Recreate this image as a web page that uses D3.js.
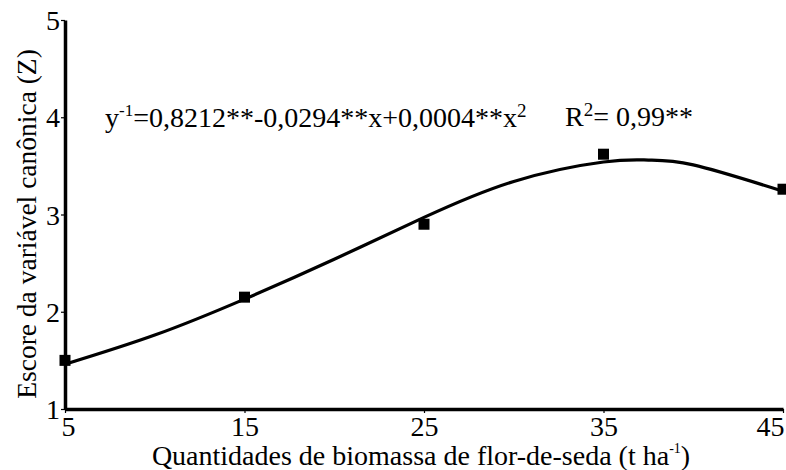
<!DOCTYPE html>
<html><head><meta charset="utf-8">
<script src="https://cdn.jsdelivr.net/npm/d3@7/dist/d3.min.js"></script>
<style>body{margin:0;background:#fff}svg{display:block}</style>
</head><body>
<script>
const xTicks = [5, 15, 25, 35, 45];
const yTicks = [1, 2, 3, 4, 5];
const obsX = [5, 15, 25, 35, 45];
const obsY = [1.5, 2.15, 2.9, 3.62, 3.26];
const curveX = [5, 10, 15, 20, 25, 30, 35, 37.5, 40, 45];
const curveY = [1.46, 1.76, 2.13, 2.54, 2.97, 3.34, 3.54, 3.56, 3.51, 3.24];
const xTitle = "Quantidades de biomassa de flor-de-seda (t ha";
const yTitle = "Escore da variável canônica (Z)";

const FONT = "'Liberation Serif', 'Times New Roman', 'DejaVu Serif', serif";
const FS = 28;
const W = 786, H = 470;
const svg = d3.select("body").append("svg").attr("width", W).attr("height", H)
  .attr("font-family", FONT).attr("font-size", FS);
const x = d3.scaleLinear().domain([5, 45]).range([65, 783]);
const y = d3.scaleLinear().domain([1, 5]).range([409, 20]);

const xAxis = svg.append("g").attr("transform", `translate(0,${y(1)})`)
  .call(d3.axisBottom(x).tickValues(xTicks).tickFormat(d3.format("d")).tickSize(4).tickSizeOuter(0).tickPadding(3));
const yAxis = svg.append("g").attr("transform", `translate(${x(5)},0)`)
  .call(d3.axisLeft(y).tickValues(yTicks).tickFormat(d3.format("d")).tickSize(4).tickSizeOuter(0).tickPadding(1));
[xAxis, yAxis].forEach(g => {
  g.attr("font-family", FONT).attr("font-size", FS);
  g.select(".domain").attr("stroke", "#000").attr("stroke-width", 3.5);
  g.selectAll(".tick line").attr("stroke", "#000").attr("stroke-width", 1.2);
  g.selectAll(".tick text").attr("font-family", FONT).attr("font-size", FS).attr("fill", "#000");
});
xAxis.selectAll(".tick text").attr("dy", "0.72em");
xAxis.selectAll(".tick text").filter(d => d === 45).attr("text-anchor", "end").attr("x", 1);
xAxis.selectAll(".tick text").filter(d => d === 5).attr("x", 3);
yAxis.selectAll(".tick text").attr("dy", "0.34em");

const line = d3.line().x((d, i) => x(curveX[i])).y(d => y(d)).curve(d3.curveNatural);
svg.append("path").datum(curveY).attr("d", line).attr("fill", "none").attr("stroke", "#000").attr("stroke-width", 3.2);

svg.selectAll("rect.pt").data(obsY).enter().append("rect").attr("class", "pt")
  .attr("x", (d, i) => x(obsX[i]) - 5.5).attr("y", d => y(d) - 5.5)
  .attr("width", 11).attr("height", 11).attr("fill", "#000");

const xt = svg.append("text").attr("x", 421).attr("y", 465).attr("text-anchor", "middle")
  .attr("font-family", FONT).attr("font-size", FS);
xt.append("tspan").text(xTitle);
xt.append("tspan").text("-1").attr("dy", -12).attr("font-size", 14);
xt.append("tspan").text(")").attr("dy", 12);

svg.append("text").attr("transform", "translate(36,224) rotate(-90)").attr("text-anchor", "middle")
  .attr("font-family", FONT).attr("font-size", 27.5).text(yTitle);

const eq = svg.append("text").attr("x", 105).attr("y", 127).attr("font-family", FONT).attr("font-size", FS);
eq.append("tspan").text("y");
eq.append("tspan").text("-1").attr("dy", -11).attr("font-size", 17);
eq.append("tspan").text("=0,8212**-0,0294**x+0,0004**x").attr("dy", 11);
eq.append("tspan").text("2").attr("dy", -10).attr("font-size", 19);

const r2 = svg.append("text").attr("x", 565).attr("y", 126).attr("font-family", FONT).attr("font-size", FS);
r2.append("tspan").text("R");
r2.append("tspan").text("2").attr("dy", -10).attr("font-size", 19);
r2.append("tspan").text("= 0,99**").attr("dy", 10);
</script>
</body></html>
